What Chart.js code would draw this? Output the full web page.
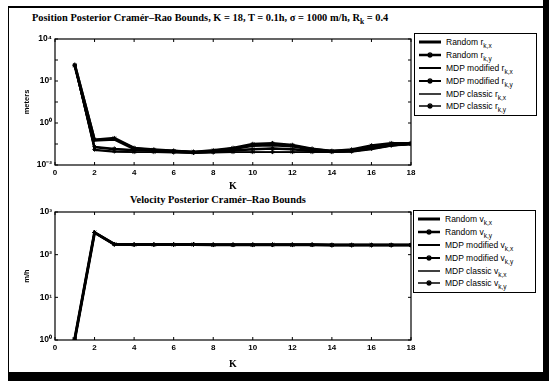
<!DOCTYPE html>
<html>
<head>
<meta charset="utf-8">
<script src="https://cdn.jsdelivr.net/npm/chart.js@4.4.1/dist/chart.umd.min.js"></script>
<style>
  html, body { margin: 0; padding: 0; background: #fff; }
  #wrap { position: relative; width: 549px; height: 381px; overflow: hidden; background: #fff; }
  canvas { position: absolute; left: 0; }
  .ttl { position: absolute; font-family: "Liberation Serif", serif; font-weight: bold; font-size: 10.4px; color: #000; white-space: nowrap; }
  .ttl sub { font-size: 7.5px; }
  .xt { position: absolute; z-index: 5; font-family: "Liberation Sans", Arial, sans-serif; font-weight: bold; font-size: 8px; line-height: 9px; color: #000; transform: translateX(-50%); white-space: nowrap; }
  .legend { position: absolute; border: 1px solid #000; background: #fff; font-family: "Liberation Sans", Arial, sans-serif; font-size: 8.5px; color: #000; padding: 2px 3px 2px 3px; width: 115px; }
  .legend .row { height: 12.8px; line-height: 12px; white-space: nowrap; display: flex; align-items: center; }
  .legend svg { width: 24px; height: 10px; margin-right: 4px; flex: none; }
  .legend sub { font-size: 6.5px; vertical-align: -3px; line-height: 0; }
  .frame { position: absolute; background: #000; }
</style>
</head>
<body>
<div id="wrap">
  <div class="frame" style="left:8px;top:6px;width:537px;height:2px"></div>
  <div class="frame" style="left:8px;top:6px;width:1px;height:367px"></div>
  <div class="frame" style="left:543px;top:0px;width:6px;height:381px"></div>
  <div class="frame" style="left:8px;top:372px;width:541px;height:9px"></div>

  <div class="ttl" style="left:32px;top:12px">Position Posterior Cramér–Rao Bounds, K = 18, T = 0.1h, σ = 1000 m/h, R<sub>k</sub> = 0.4</div>
  <div class="ttl" style="left:130px;top:194px">Velocity Posterior Cramér–Rao Bounds</div>

  <canvas id="pos" width="420" height="192" style="top:0px;width:420px;height:192px"></canvas>
  <canvas id="vel" width="420" height="180" style="top:190px;width:420px;height:180px"></canvas>

  <div class="legend" id="legPos" style="left:414px;top:33px"></div>
  <div class="legend" id="legVel" style="left:413px;top:210px"></div>
</div>
<script>
// x values (time step K)
const steps = [1, 2, 3, 4, 5, 6, 7, 8, 9, 10, 11, 12, 13, 14, 15, 16, 17, 18];
const xTicks = [0, 2, 4, 6, 8, 10, 12, 14, 16, 18];

// position bounds (meters)
const posRandomX = [560, 0.15, 0.17, 0.06, 0.05, 0.045, 0.04, 0.045, 0.06, 0.085, 0.09, 0.08, 0.055, 0.045, 0.05, 0.07, 0.09, 0.1];
const posRandomY = [600, 0.16, 0.19, 0.065, 0.055, 0.048, 0.042, 0.05, 0.065, 0.1, 0.11, 0.09, 0.06, 0.047, 0.055, 0.085, 0.11, 0.11];
const posModX = [540, 0.07, 0.055, 0.05, 0.048, 0.045, 0.04, 0.042, 0.048, 0.055, 0.06, 0.055, 0.045, 0.042, 0.045, 0.06, 0.085, 0.1];
const posModY = [550, 0.075, 0.06, 0.052, 0.05, 0.046, 0.042, 0.044, 0.05, 0.058, 0.062, 0.058, 0.048, 0.044, 0.048, 0.065, 0.09, 0.105];
const posClassicX = [520, 0.05, 0.042, 0.04, 0.04, 0.038, 0.036, 0.038, 0.04, 0.04, 0.04, 0.04, 0.04, 0.04, 0.042, 0.055, 0.08, 0.1];
const posClassicY = [530, 0.055, 0.045, 0.042, 0.042, 0.04, 0.038, 0.04, 0.042, 0.042, 0.042, 0.042, 0.042, 0.042, 0.044, 0.06, 0.085, 0.1];
const posTicks = [1e-2, 1, 1e2, 1e4];
const posTickLabels = ["10⁻²", "10⁰", "10²", "10⁴"];
const posDecades = [1e-2, 1e-1, 1, 10, 100, 1e3, 1e4];

// velocity bounds (m/h)
const velRandomX = [1.05, 330, 175, 172, 172, 172, 174, 170, 170, 170, 170, 170, 170, 168, 168, 168, 168, 168];
const velRandomY = [1.05, 332, 176, 172, 172, 173, 174, 171, 170, 170, 171, 170, 171, 168, 168, 168, 168, 168];
const velModX = [1.04, 328, 174, 171, 171, 172, 173, 170, 170, 170, 170, 170, 170, 168, 168, 168, 168, 168];
const velModY = [1.05, 330, 175, 172, 172, 172, 174, 170, 170, 170, 170, 170, 170, 168, 168, 168, 168, 168];
const velClassicX = [1.04, 329, 174, 171, 171, 172, 173, 170, 170, 170, 170, 170, 170, 168, 168, 168, 168, 168];
const velClassicY = [1.05, 331, 175, 172, 172, 172, 174, 170, 170, 170, 170, 170, 170, 168, 168, 168, 168, 168];
const velTicks = [1, 10, 100, 1000];
const velTickLabels = ["10⁰", "10¹", "10²", "10³"];
const velDecades = [1, 10, 100, 1000];

const seriesStyle = [
  { width: 3, marker: false },
  { width: 2.5, marker: true },
  { width: 2, marker: false },
  { width: 2, marker: true },
  { width: 1.5, marker: false },
  { width: 1.5, marker: true },
];

function toPoints(values) {
  return steps.map((k, i) => ({ x: k, y: values[i] }));
}

function makeDatasets(list) {
  return list.map((values, i) => ({
    data: toPoints(values),
    borderColor: "#000",
    backgroundColor: "#000",
    borderWidth: seriesStyle[i].width,
    pointStyle: "star",
    pointRadius: seriesStyle[i].marker ? 2.2 : 0,
    pointBorderWidth: 1,
    tension: 0,
  }));
}

// axis box with inward ticks on all four sides (MATLAB style)
const boxTicks = {
  id: "boxTicks",
  afterDraw(chart, args, opts) {
    const { ctx, chartArea: a, scales } = chart;
    ctx.save();
    ctx.strokeStyle = "#000";
    ctx.lineWidth = 1.2;
    ctx.strokeRect(a.left, a.top, a.right - a.left, a.bottom - a.top);
    ctx.lineWidth = 1;
    ctx.beginPath();
    for (const v of xTicks) {
      const px = scales.x.getPixelForValue(v);
      ctx.moveTo(px, a.bottom); ctx.lineTo(px, a.bottom - 3);
      ctx.moveTo(px, a.top); ctx.lineTo(px, a.top + 3);
    }
    for (const v of opts.decades) {
      const py = scales.y.getPixelForValue(v);
      ctx.moveTo(a.left, py); ctx.lineTo(a.left + 3, py);
      ctx.moveTo(a.right, py); ctx.lineTo(a.right - 3, py);
    }
    ctx.stroke();
    ctx.restore();
  },
};

function makeChart(id, datasets, yMin, yMax, ticks, labels, decades, yTitle, padTop, xHeight) {
  return new Chart(document.getElementById(id), {
    type: "line",
    data: { datasets },
    options: {
      responsive: false,
      animation: false,
      devicePixelRatio: 1,
      layout: { padding: { left: 22, right: 9, top: padTop, bottom: 0 } },
      plugins: { legend: { display: false }, tooltip: { enabled: false }, boxTicks: { decades } },
      scales: {
        x: {
          type: "linear",
          min: 0,
          max: 18,
          grid: { display: false, drawTicks: false },
          border: { display: false },
          afterBuildTicks: (s) => { s.ticks = xTicks.map((v) => ({ value: v })); },
          ticks: { display: false },
          title: { display: true, text: "K", color: "#000", padding: { top: 0, bottom: 0 }, font: { family: "Liberation Serif", size: 10, weight: "bold" } },
          afterFit: (s) => { s.height = xHeight; },
        },
        y: {
          type: "logarithmic",
          min: yMin,
          max: yMax,
          grid: { display: false, drawTicks: false },
          border: { display: false },
          afterBuildTicks: (s) => { s.ticks = ticks.map((v) => ({ value: v })); },
          ticks: {
            color: "#000",
            padding: 3,
            autoSkip: false,
            font: { family: "Liberation Sans", size: 8.5, weight: "bold" },
            callback: (v) => labels[ticks.indexOf(v)] ?? "",
          },
          title: { display: true, text: yTitle, color: "#000", padding: { top: 0, bottom: 2 }, font: { family: "Liberation Sans", size: 7.5, weight: "bold" } },
          afterFit: (s) => { s.width = 33; },
        },
      },
    },
    plugins: [boxTicks],
  });
}

const posChart = makeChart("pos",
  makeDatasets([posRandomX, posRandomY, posModX, posModY, posClassicX, posClassicY]),
  1e-2, 1e4, posTicks, posTickLabels, posDecades, "meters", 39, 27);

const velChart = makeChart("vel",
  makeDatasets([velRandomX, velRandomY, velModX, velModY, velClassicX, velClassicY]),
  1, 1000, velTicks, velTickLabels, velDecades, "m/h", 22, 30);

// K tick labels as text placed from the chart's own x scale
function addXLabels(chart) {
  const wrap = document.getElementById("wrap");
  const top0 = chart.canvas.offsetTop;
  const left0 = chart.canvas.offsetLeft;
  for (const v of xTicks) {
    const el = document.createElement("div");
    el.className = "xt";
    el.textContent = String(v);
    el.style.left = `${left0 + chart.scales.x.getPixelForValue(v)}px`;
    el.style.top = `${top0 + chart.chartArea.bottom + 3}px`;
    wrap.appendChild(el);
  }
}
addXLabels(posChart);
addXLabels(velChart);

function sample(style) {
  const w = style.width;
  const mark = style.marker
    ? '<path d="M12 2 L12 8 M9 5 L15 5 M10 3 L14 7 M14 3 L10 7" stroke="#000" stroke-width="1.2"/>'
    : "";
  return `<svg viewBox="0 0 24 10"><line x1="1" y1="5" x2="23" y2="5" stroke="#000" stroke-width="${w}"/>${mark}</svg>`;
}

function fillLegend(id, names) {
  document.getElementById(id).innerHTML = names
    .map((n, i) => `<div class="row">${sample(seriesStyle[i])}<span>${n}</span></div>`)
    .join("");
}

fillLegend("legPos", [
  "Random r<sub>k,x</sub>",
  "Random r<sub>k,y</sub>",
  "MDP modified r<sub>k,x</sub>",
  "MDP modified r<sub>k,y</sub>",
  "MDP classic r<sub>k,x</sub>",
  "MDP classic r<sub>k,y</sub>",
]);
fillLegend("legVel", [
  "Random v<sub>k,x</sub>",
  "Random v<sub>k,y</sub>",
  "MDP modified v<sub>k,x</sub>",
  "MDP modified v<sub>k,y</sub>",
  "MDP classic v<sub>k,x</sub>",
  "MDP classic v<sub>k,y</sub>",
]);
</script>
</body>
</html>
